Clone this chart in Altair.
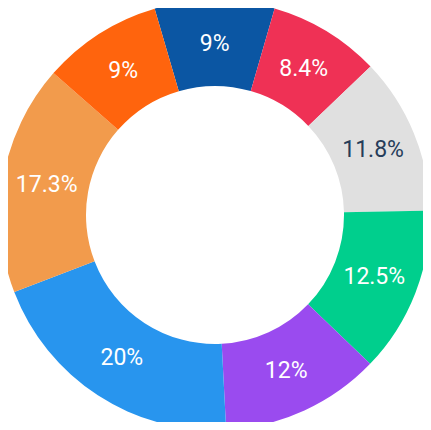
import math
import altair as alt
import pandas as pd

# Slices in clockwise order, starting with the dark-blue slice near the top
labels = ["9%", "8.4%", "11.8%", "12.5%", "12%", "20%", "17.3%", "9%"]
values = [9, 8.4, 11.8, 12.5, 12, 20, 17.3, 9]
slice_colors = ["#0B56A3", "#EF3155", "#E0E0E0", "#00CF8D",
                "#9A4BEF", "#2895EE", "#F29B4C", "#FF640D"]
label_colors = ["#FFFFFF", "#FFFFFF", "#263D5A", "#FFFFFF",
                "#FFFFFF", "#FFFFFF", "#FFFFFF", "#FFFFFF"]
order = list(range(len(values)))

df = pd.DataFrame({
    "idx": order,
    "value": values,
    "label": labels,
    "tcolor": label_colors,
})

start = math.radians(-16.3)
theta_scale = alt.Scale(type="linear", domain=[0, sum(values)],
                        range=[start, start + 2 * math.pi])

cx, cy = 207, 207

base = alt.Chart(df)

arcs = base.mark_arc(outerRadius=215, innerRadius=129).encode(
    theta=alt.Theta("value:Q", stack=True, scale=theta_scale),
    order=alt.Order("idx:Q"),
    color=alt.Color("idx:N", scale=alt.Scale(domain=order, range=slice_colors), legend=None),
    x=alt.value(cx),
    y=alt.value(cy),
)

texts = base.mark_text(radius=171, font="Roboto", fontSize=23, fontWeight=400,
                       align="center", baseline="middle").encode(
    theta=alt.Theta("value:Q", stack=True, scale=theta_scale),
    order=alt.Order("idx:Q"),
    text="label:N",
    color=alt.Color("tcolor:N", scale=None),
    x=alt.value(cx),
    y=alt.value(cy),
)

chart = alt.layer(arcs, texts).properties(
    width=415, height=414, padding=0, autosize="none", background="white"
).configure_view(stroke=None)

chart.save("out.html", embed_options={"renderer": "svg", "actions": False})
